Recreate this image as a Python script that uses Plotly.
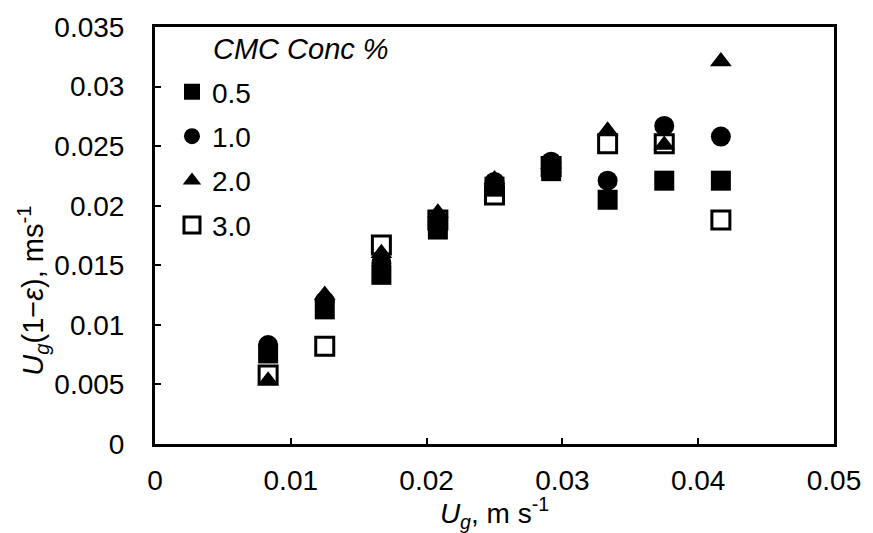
import plotly.graph_objects as go

# Superficial gas velocity, m/s
ug = [0.00833, 0.0125, 0.01667, 0.02083, 0.025, 0.02917, 0.03333, 0.0375, 0.04167]

# Ug(1 - eps) for each CMC concentration, m/s
cmc_05 = [0.0076, 0.0113, 0.0142, 0.0180, 0.0216, 0.0229, 0.0205, 0.0221, 0.0221]
cmc_10 = [0.0083, 0.0120, 0.0152, 0.0187, 0.0220, 0.0237, 0.0221, 0.0267, 0.0258]
cmc_20 = [0.0053, 0.0125, 0.0160, 0.0194, 0.0222, 0.0235, 0.0263, 0.0251, 0.0321]
cmc_30 = [0.0058, 0.0082, 0.0167, 0.0188, 0.0209, 0.0233, 0.0252, 0.0252, 0.0188]

series_names = ["0.5", "1.0", "2.0", "3.0"]
x_ticks = [0, 0.01, 0.02, 0.03, 0.04, 0.05]
x_tick_text = ["0", "0.01", "0.02", "0.03", "0.04", "0.05"]
y_ticks = [0, 0.005, 0.01, 0.015, 0.02, 0.025, 0.03, 0.035]
y_tick_text = ["0", "0.005", "0.01", "0.015", "0.02", "0.025", "0.03", "0.035"]

FONT = "Liberation Sans, Arial, sans-serif"
FS = 28

styles = [
    dict(symbol="square", size=20, color="black", line=dict(width=0)),
    dict(symbol="circle", size=20, color="black", line=dict(width=0)),
    dict(symbol="triangle-up", size=19, color="black", line=dict(width=0)),
    dict(symbol="square", size=18, color="rgba(0,0,0,0)",
         line=dict(width=3, color="black")),
]

fig = go.Figure()
for i, (name, vals) in enumerate(zip(series_names, [cmc_05, cmc_10, cmc_20, cmc_30])):
    fig.add_trace(go.Scatter(
        x=ug, y=vals, mode="markers", name=name,
        legendgroup=f"g{i}", marker=styles[i],
    ))

axis_common = dict(
    showline=True, linecolor="black", linewidth=3, mirror=True,
    ticks="inside", ticklen=6, tickwidth=2, tickcolor="black",
    showgrid=False, zeroline=False,
    tickfont=dict(family=FONT, size=FS, color="black"),
)

fig.update_xaxes(
    range=[0, 0.05], tickvals=x_ticks, ticktext=x_tick_text,
    ticklabelstandoff=9,
    title=dict(text="<i>U</i><sub><i>g</i></sub>, m s<sup>-1</sup>",
               font=dict(family=FONT, size=FS, color="black"), standoff=6),
    **axis_common,
)
fig.update_yaxes(
    range=[0, 0.035], tickvals=y_ticks, ticktext=y_tick_text,
    ticklabelstandoff=22,
    **axis_common,
)

fig.add_annotation(
    text="<i>U</i><sub><i>g</i></sub>(1−<i>ε</i>), ms<sup>-1</sup>",
    xref="paper", yref="paper", x=-0.18, y=0.367,
    xanchor="center", yanchor="middle", textangle=-90, showarrow=False,
    font=dict(family=FONT, size=29, color="black"),
)
fig.add_annotation(
    text="<i>CMC Conc %</i>",
    xref="paper", yref="paper", x=0.082, y=0.948,
    xanchor="left", yanchor="middle", showarrow=False,
    font=dict(family=FONT, size=29, color="black"),
)

fig.update_layout(
    width=873, height=533,
    margin=dict(l=155, r=32, t=23, b=87),
    paper_bgcolor="white", plot_bgcolor="white",
    showlegend=True,
    legend=dict(
        x=0.025, y=0.904, xanchor="left", yanchor="top",
        bgcolor="rgba(0,0,0,0)", borderwidth=0,
        font=dict(family=FONT, size=FS, color="black"),
        tracegroupgap=5, itemsizing="trace",
    ),
)

fig.write_html("out.html")
